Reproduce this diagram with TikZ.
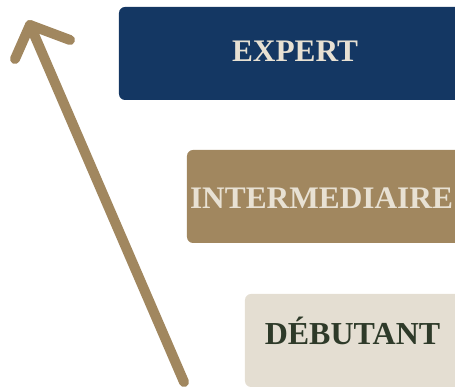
\documentclass[tikz,border=0pt]{standalone}
\usepackage{fontspec}
\setmainfont{Liberation Serif}
\definecolor{navy}{HTML}{143763}
\definecolor{tan}{HTML}{A1875F}
\definecolor{beige}{HTML}{E4DED2}
\definecolor{cream}{HTML}{E8E1D3}
\definecolor{darkgreen}{HTML}{2E3A29}
\begin{document}
\begin{tikzpicture}[x=0.75pt,y=-0.75pt,
  levelbox/.style={rounded corners=4.5pt},
  leveltext/.style={font=\fontsize{23.5}{26}\selectfont\bfseries, anchor=base, inner sep=0pt},
  arrowline/.style={draw=tan, line width=7.5pt, line cap=round, line join=round}]
\useasboundingbox (0,0) rectangle (455,392);
\clip (0,0) rectangle (455,392);
% boxes
\fill[navy, levelbox] (119,7) rectangle (480,100);
\coordinate (b1) at (119,7);
\fill[tan, levelbox] (187,150) rectangle (480,243);
\coordinate (b2) at (187,150);
\fill[beige, levelbox] (245,294) rectangle (480,387);
\coordinate (b3) at (245,294);
% labels
\node[leveltext, text=cream] (expert) at (295,62) {EXPERT};
\node[leveltext, text=cream] (inter) at (321.5,209) {INTERMEDIAIRE};
\node[leveltext, text=darkgreen, font=\fontsize{24}{26}\selectfont\bfseries] (debut) at (352.5,345) {DÉBUTANT};
% arrow
\coordinate (tail) at (184,382);
\coordinate (tip) at (30,25);
\coordinate (wingL) at (15,59);
\coordinate (wingR) at (70,40);
\draw[arrowline] (tail) -- (tip);
\draw[arrowline] (wingL) -- (tip) -- (wingR);
\end{tikzpicture}
\end{document}
